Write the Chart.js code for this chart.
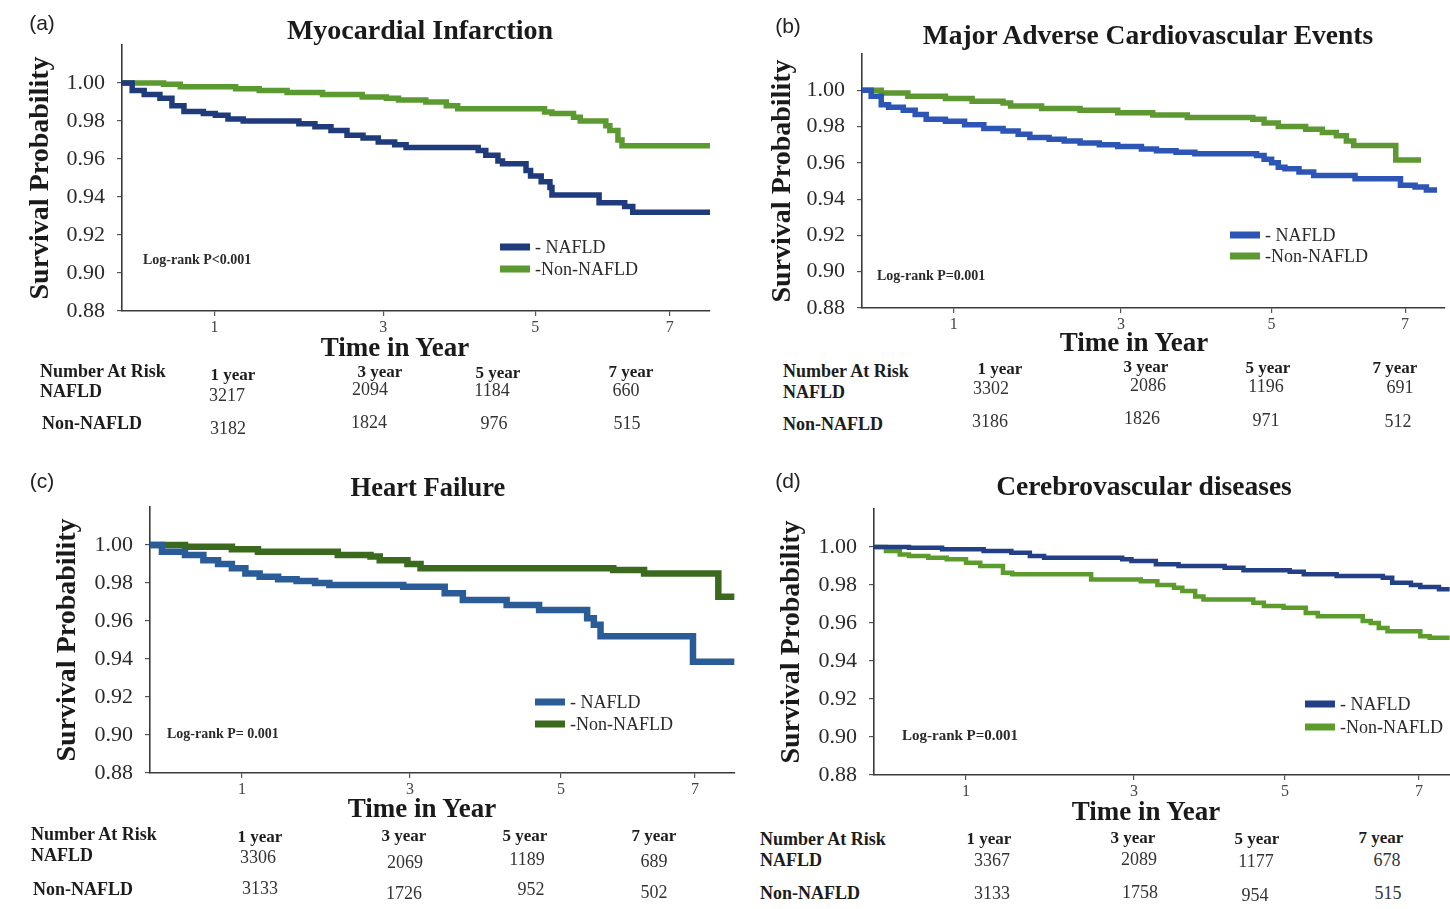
<!DOCTYPE html>
<html>
<head>
<meta charset="utf-8">
<title>Kaplan-Meier curves: NAFLD vs Non-NAFLD</title>
<script src="https://cdn.jsdelivr.net/npm/chart.js@4.4.1/dist/chart.umd.min.js"></script>
<style>
  html, body { margin: 0; padding: 0; background: #fff; width: 1450px; height: 909px; overflow: hidden; }
  #page { position: relative; width: 1450px; height: 909px; overflow: hidden; background: #fff; }
  #page canvas { position: absolute; }
  .t { position: absolute; white-space: nowrap; line-height: 1; font-family: "Liberation Serif", "Times New Roman", serif; color: #1c1c1c; z-index: 2; }
  .c { transform: translate(-50%, -50%); }
  .l { transform: translateY(-50%); }
  .b { font-weight: bold; }
  .letter { font-family: "Liberation Sans", Arial, sans-serif; font-size: 21px; color: #222; }
  .sw { position: absolute; width: 30px; height: 7px; transform: translateY(-50%); z-index: 2; }
</style>
</head>
<body>
<div id="page"></div>
<script>
// ---------- data ----------
const seriesLabels = ['- NAFLD', '-Non-NAFLD'];
const xTickValues = [1, 3, 5, 7];
const yTickValues = [0.88, 0.90, 0.92, 0.94, 0.96, 0.98, 1.00];
const riskYearLabels = ['1 year', '3 year', '5 year', '7 year'];

// (a) Myocardial Infarction
const miNafldTime = [0, 0.11, 0.24, 0.41, 0.54, 0.67, 0.88, 1.01, 1.16, 1.34, 2.00, 2.19, 2.38, 2.57, 2.76, 2.94, 3.15, 3.30, 4.25, 4.35, 4.51, 4.57, 4.88, 4.94, 5.09, 5.22, 5.25, 5.95, 6.33, 6.45, 7.63];
const miNafldSurv = [1.000, 0.996, 0.994, 0.992, 0.988, 0.985, 0.984, 0.983, 0.981, 0.980, 0.9785, 0.977, 0.975, 0.9725, 0.971, 0.969, 0.9675, 0.966, 0.9645, 0.962, 0.959, 0.9575, 0.954, 0.951, 0.948, 0.945, 0.941, 0.937, 0.935, 0.932, 0.932];
const miNonTime = [0, 0.45, 0.63, 1.25, 1.53, 1.86, 2.28, 2.75, 3.04, 3.20, 3.56, 3.83, 3.98, 5.14, 5.25, 5.57, 5.67, 6.05, 6.11, 6.23, 6.29, 7.62];
const miNonSurv = [1.000, 0.9993, 0.998, 0.997, 0.996, 0.995, 0.994, 0.9926, 0.992, 0.991, 0.990, 0.988, 0.9865, 0.9847, 0.984, 0.982, 0.980, 0.9775, 0.975, 0.970, 0.967, 0.967];
const miRiskNafld = [3217, 2094, 1184, 660];
const miRiskNon = [3182, 1824, 976, 515];

// (b) Major Adverse Cardiovascular Events
const maceNafldTime = [0, 0.10, 0.21, 0.29, 0.45, 0.58, 0.70, 0.91, 1.13, 1.36, 1.59, 1.77, 1.91, 2.14, 2.32, 2.51, 2.74, 2.96, 3.27, 3.47, 3.73, 3.98, 4.80, 4.90, 5.00, 5.10, 5.20, 5.41, 5.63, 6.25, 6.93, 7.15, 7.32, 7.48];
const maceNafldSurv = [1.000, 0.9967, 0.992, 0.9907, 0.989, 0.9867, 0.984, 0.983, 0.981, 0.979, 0.9776, 0.9758, 0.974, 0.973, 0.972, 0.971, 0.970, 0.969, 0.9676, 0.9667, 0.9658, 0.965, 0.964, 0.962, 0.960, 0.9576, 0.9567, 0.955, 0.953, 0.9513, 0.9476, 0.9467, 0.945, 0.945];
const maceNonTime = [0, 0.21, 0.50, 0.91, 1.22, 1.59, 1.68, 2.05, 2.51, 2.96, 3.42, 3.88, 4.75, 4.90, 5.10, 5.51, 5.76, 5.97, 6.12, 6.23, 6.86, 7.24];
const maceNonSurv = [1.000, 0.9985, 0.9967, 0.9955, 0.994, 0.993, 0.9913, 0.990, 0.989, 0.9876, 0.9864, 0.985, 0.984, 0.982, 0.980, 0.9785, 0.9767, 0.975, 0.972, 0.9695, 0.9616, 0.9616];
const maceRiskNafld = [3302, 2086, 1196, 691];
const maceRiskNon = [3186, 1826, 971, 512];

// (c) Heart Failure
const hfNafldTime = [0, 0.13, 0.38, 0.58, 0.74, 0.89, 1.04, 1.21, 1.43, 1.65, 1.87, 2.04, 2.92, 3.46, 3.70, 4.28, 4.71, 5.39, 5.49, 5.59, 6.97, 7.59];
const hfNafldSurv = [1.000, 0.9965, 0.9947, 0.992, 0.990, 0.9877, 0.985, 0.9833, 0.982, 0.981, 0.980, 0.979, 0.978, 0.9746, 0.971, 0.9684, 0.9658, 0.9614, 0.958, 0.952, 0.9386, 0.9386];
const hfNonTime = [0, 0.38, 0.89, 1.19, 2.14, 2.53, 2.64, 2.97, 3.14, 5.78, 6.24, 7.35, 7.59];
const hfNonSurv = [1.000, 0.9991, 0.9977, 0.9965, 0.9947, 0.9939, 0.992, 0.990, 0.9877, 0.9868, 0.985, 0.9728, 0.9728];
const hfRiskNafld = [3306, 2069, 1189, 689];
const hfRiskNon = [3133, 1726, 952, 502];

// (d) Cerebrovascular diseases
const cvdNafldTime = [0, 0.38, 0.74, 1.21, 1.54, 1.76, 1.93, 2.86, 2.97, 3.29, 3.59, 4.20, 4.45, 5.07, 5.28, 5.77, 6.46, 6.60, 6.88, 7.02, 7.30, 7.46];
const cvdNafldSurv = [1.000, 0.9996, 0.9988, 0.9979, 0.997, 0.9953, 0.9944, 0.9935, 0.9926, 0.9909, 0.990, 0.9891, 0.9877, 0.987, 0.9856, 0.9847, 0.9838, 0.9812, 0.980, 0.979, 0.9777, 0.9777];
const cvdNonTime = [0, 0.13, 0.28, 0.38, 0.59, 0.79, 1.00, 1.17, 1.44, 1.55, 2.49, 3.09, 3.31, 3.53, 3.64, 3.81, 3.92, 4.58, 4.72, 4.98, 5.31, 5.49, 6.16, 6.28, 6.40, 6.53, 7.02, 7.16, 7.46];
const cvdNonSurv = [1.000, 0.9979, 0.9961, 0.9953, 0.9944, 0.9935, 0.9917, 0.990, 0.9865, 0.9856, 0.9829, 0.982, 0.980, 0.9785, 0.9768, 0.974, 0.9724, 0.9706, 0.9689, 0.968, 0.9653, 0.9636, 0.961, 0.960, 0.9574, 0.9557, 0.953, 0.9522, 0.9522];
const cvdRiskNafld = [3367, 2089, 1177, 678];
const cvdRiskNon = [3133, 1758, 954, 515];

// ---------- time axis: segmented scale (years between labelled ticks are not equally spaced) ----------
const TIME_KNOTS = [0, 1, 3, 5, 7, 7.6];
const KNOT_FRACTIONS = [0, 0.1573, 0.4444, 0.7026, 0.9316, 1];

function interp(v, from, to) {
  const n = from.length;
  let i = 1;
  while (i < n - 1 && v > from[i]) i++;
  return to[i - 1] + (v - from[i - 1]) * (to[i] - to[i - 1]) / (from[i] - from[i - 1]);
}

class SegmentedScale extends Chart.LinearScale {
  getPixelForValue(value) {
    return this.getPixelForDecimal(interp(value, TIME_KNOTS, KNOT_FRACTIONS));
  }
  getValueForPixel(pixel) {
    return interp(this.getDecimalForPixel(pixel), KNOT_FRACTIONS, TIME_KNOTS);
  }
}
SegmentedScale.id = 'segmented';
SegmentedScale.defaults = Chart.LinearScale.defaults;
Chart.register(SegmentedScale);

// ---------- panels ----------
const SERIF = '"Liberation Serif", "Times New Roman", serif';

const panels = [
  {
    letter: '(a)', letterPos: [42, 22], title: 'Myocardial Infarction', titleSize: 28, titlePos: [420, 30],
    canvas: { left: 0, top: 0, width: 725, height: 365 },
    area: { left: 122, right: 710, top: 45, bottom: 311 },
    yTitleX: 41, xTitlePos: [395, 347],
    lineWidth: 5.5, colors: ['#1f3b7c', '#5b9a30'],
    series: [[miNafldTime, miNafldSurv], [miNonTime, miNonSurv]],
    legend: { x: 500, ys: [247, 269] },
    logrank: { text: 'Log-rank P<0.001', x: 143, y: 260, size: 14 },
    risk: {
      nafld: miRiskNafld, non: miRiskNon,
      head: [40, 371], nafLabel: [40, 391], nonLabel: [42, 423],
      yearPos: [[233, 374], [380, 371], [498, 372], [631, 371]],
      nafPos: [[227, 395], [370, 389], [492, 390], [626, 390]],
      nonPos: [[228, 428], [369, 422], [494, 423], [627, 423]]
    }
  },
  {
    letter: '(b)', letterPos: [788, 25], title: 'Major Adverse Cardiovascular Events', titleSize: 27.5, titlePos: [1148, 35],
    canvas: { left: 760, top: 0, width: 700, height: 360 },
    area: { left: 862, right: 1445, top: 54, bottom: 308 },
    yTitleX: 783, xTitlePos: [1134, 342],
    lineWidth: 5.5, colors: ['#2c55b5', '#5d9833'],
    series: [[maceNafldTime, maceNafldSurv], [maceNonTime, maceNonSurv]],
    legend: { x: 1230, ys: [235, 256] },
    logrank: { text: 'Log-rank P=0.001', x: 877, y: 276, size: 14 },
    risk: {
      nafld: maceRiskNafld, non: maceRiskNon,
      head: [783, 371], nafLabel: [783, 392], nonLabel: [783, 424],
      yearPos: [[1000, 368], [1146, 366], [1268, 367], [1395, 367]],
      nafPos: [[991, 388], [1148, 385], [1266, 386], [1400, 387]],
      nonPos: [[990, 421], [1142, 418], [1266, 420], [1398, 421]]
    }
  },
  {
    letter: '(c)', letterPos: [42, 480], title: 'Heart Failure', titleSize: 26.5, titlePos: [428, 487],
    canvas: { left: 0, top: 455, width: 750, height: 370 },
    area: { left: 150, right: 735, top: 507, bottom: 773 },
    yTitleX: 68, xTitlePos: [422, 808],
    lineWidth: 6.5, colors: ['#2a5c98', '#3b6a1f'],
    series: [[hfNafldTime, hfNafldSurv], [hfNonTime, hfNonSurv]],
    legend: { x: 535, ys: [702, 724] },
    logrank: { text: 'Log-rank P= 0.001', x: 167, y: 734, size: 14 },
    risk: {
      nafld: hfRiskNafld, non: hfRiskNon,
      head: [31, 834], nafLabel: [31, 855], nonLabel: [33, 889],
      yearPos: [[260, 836], [404, 835], [525, 835], [654, 835]],
      nafPos: [[258, 857], [405, 862], [527, 859], [654, 861]],
      nonPos: [[260, 888], [404, 893], [531, 889], [654, 892]]
    }
  },
  {
    letter: '(d)', letterPos: [788, 480], title: 'Cerebrovascular diseases', titleSize: 27.5, titlePos: [1144, 486],
    canvas: { left: 740, top: 455, width: 735, height: 372 },
    area: { left: 874, right: 1459, top: 509, bottom: 775 },
    yTitleX: 792, xTitlePos: [1146, 811],
    lineWidth: 4.5, colors: ['#233f86', '#5b9c2d'],
    series: [[cvdNafldTime, cvdNafldSurv], [cvdNonTime, cvdNonSurv]],
    legend: { x: 1305, ys: [704, 727] },
    logrank: { text: 'Log-rank P=0.001', x: 902, y: 735, size: 15 },
    risk: {
      nafld: cvdRiskNafld, non: cvdRiskNon,
      head: [760, 839], nafLabel: [760, 860], nonLabel: [760, 893],
      yearPos: [[989, 838], [1133, 837], [1257, 838], [1381, 837]],
      nafPos: [[992, 860], [1139, 859], [1256, 861], [1387, 860]],
      nonPos: [[992, 893], [1140, 892], [1255, 895], [1388, 893]]
    }
  }
];

const page = document.getElementById('page');

function addText(text, x, y, cls, size, extraStyle) {
  const d = document.createElement('div');
  d.className = 't ' + cls;
  d.textContent = text;
  d.style.left = x + 'px';
  d.style.top = y + 'px';
  if (size) d.style.fontSize = size + 'px';
  if (extraStyle) Object.assign(d.style, extraStyle);
  page.appendChild(d);
  return d;
}

const Y_TITLE_SIZE = 28;
const X_TITLE_SIZE = 27;

panels.forEach(p => {
  const cv = document.createElement('canvas');
  cv.width = p.canvas.width;
  cv.height = p.canvas.height;
  cv.style.left = p.canvas.left + 'px';
  cv.style.top = p.canvas.top + 'px';
  cv.style.width = p.canvas.width + 'px';
  cv.style.height = p.canvas.height + 'px';
  page.appendChild(cv);

  const yAxisWidth = p.area.left - p.canvas.left;
  const xAxisHeight = p.canvas.top + p.canvas.height - p.area.bottom;

  const chart = new Chart(cv, {
    type: 'line',
    data: {
      datasets: p.series.map((s, i) => ({
        label: seriesLabels[i],
        data: s[0].map((t, j) => ({ x: t, y: s[1][j] })),
        borderColor: p.colors[i],
        backgroundColor: p.colors[i],
        borderWidth: p.lineWidth,
        stepped: true,
        pointRadius: 0,
        fill: false,
        borderJoinStyle: 'miter',
        borderCapStyle: 'butt'
      }))
    },
    options: {
      responsive: false,
      animation: false,
      devicePixelRatio: 1,
      events: [],
      layout: {
        padding: {
          left: 0,
          top: p.area.top - p.canvas.top,
          bottom: 0,
          right: p.canvas.left + p.canvas.width - p.area.right
        }
      },
      plugins: {
        legend: { display: false },
        tooltip: { enabled: false },
        title: { display: false }
      },
      scales: {
        x: {
          type: 'segmented',
          min: 0,
          max: 7.6,
          afterBuildTicks: s => { s.ticks = xTickValues.map(v => ({ value: v })); },
          afterFit: s => { s.height = xAxisHeight; },
          grid: { display: true, drawOnChartArea: false, drawTicks: true, tickLength: 5, color: '#555', lineWidth: 1.2 },
          border: { display: true, color: '#3a3a3a', width: 1.6 },
          ticks: {
            autoSkip: false, maxRotation: 0, padding: 2, color: '#444',
            font: { family: SERIF, size: 16 },
            callback: v => String(v)
          },
          title: { display: false }
        },
        y: {
          type: 'linear',
          min: 0.88,
          max: 1.02,
          afterBuildTicks: s => { s.ticks = yTickValues.map(v => ({ value: v })); },
          afterFit: s => { s.width = yAxisWidth; },
          grid: { display: true, drawOnChartArea: false, drawTicks: true, tickLength: 5, color: '#555', lineWidth: 1.2 },
          border: { display: true, color: '#3a3a3a', width: 1.6 },
          ticks: {
            autoSkip: false, padding: 12, color: '#2a2a2a',
            font: { family: SERIF, size: 22 },
            callback: v => v.toFixed(2)
          },
          title: {
            display: true, text: 'Survival Probability', color: '#1a1a1a',
            font: { family: SERIF, size: Y_TITLE_SIZE, weight: 'bold', lineHeight: 1.0 },
            padding: { top: p.yTitleX - p.canvas.left - Y_TITLE_SIZE / 2, bottom: 0 }
          }
        }
      }
    }
  });

  // panel letter, heading and time-axis caption
  addText(p.letter, p.letterPos[0], p.letterPos[1], 'c letter');
  addText(p.title, p.titlePos[0], p.titlePos[1], 'c b', p.titleSize, { color: '#1a1a1a' });
  addText('Time in Year', p.xTitlePos[0], p.xTitlePos[1], 'c b', X_TITLE_SIZE, { color: '#1a1a1a' });

  // legend built from the chart's datasets
  chart.data.datasets.forEach((ds, i) => {
    const sw = document.createElement('div');
    sw.className = 'sw';
    sw.style.left = p.legend.x + 'px';
    sw.style.top = p.legend.ys[i] + 'px';
    sw.style.background = ds.borderColor;
    page.appendChild(sw);
    addText(ds.label, p.legend.x + 35, p.legend.ys[i], 'l', 18, { color: '#2a2a2a' });
  });

  // log-rank annotation
  addText(p.logrank.text, p.logrank.x, p.logrank.y, 'l b', p.logrank.size, { color: '#2a2a2a' });

  // number-at-risk table
  const r = p.risk;
  addText('Number At Risk', r.head[0], r.head[1], 'l b', 18);
  addText('NAFLD', r.nafLabel[0], r.nafLabel[1], 'l b', 18);
  addText('Non-NAFLD', r.nonLabel[0], r.nonLabel[1], 'l b', 18);
  riskYearLabels.forEach((lab, i) => {
    addText(lab, r.yearPos[i][0], r.yearPos[i][1], 'c b', 17);
    addText(String(r.nafld[i]), r.nafPos[i][0], r.nafPos[i][1], 'c', 18, { color: '#333' });
    addText(String(r.non[i]), r.nonPos[i][0], r.nonPos[i][1], 'c', 18, { color: '#333' });
  });
});
</script>
</body>
</html>
